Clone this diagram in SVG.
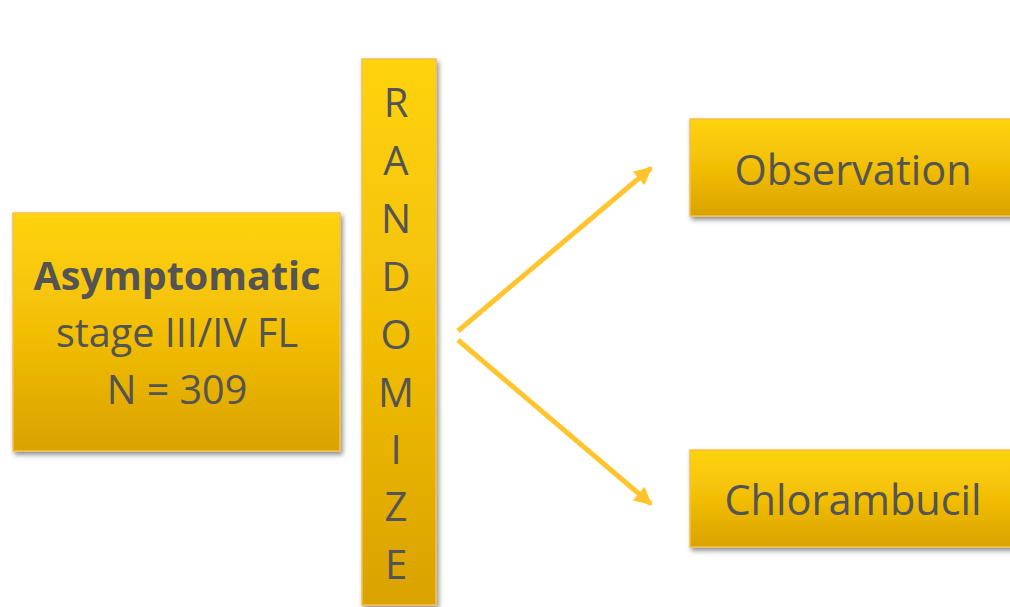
<svg xmlns="http://www.w3.org/2000/svg" width="1010" height="607" viewBox="0 0 1010 607">
  <defs>
    <linearGradient id="gold" x1="0" y1="0" x2="0" y2="1">
      <stop offset="0" stop-color="#FFD30A"/>
      <stop offset="0.5" stop-color="#F2BE06"/>
      <stop offset="1" stop-color="#D9A200"/>
    </linearGradient>
    <filter id="shadow" x="-10%" y="-10%" width="130%" height="130%">
      <feGaussianBlur in="SourceAlpha" stdDeviation="2.5"/>
      <feOffset dx="2" dy="3" result="b"/>
      <feComponentTransfer><feFuncA type="linear" slope="0.45"/></feComponentTransfer>
      <feMerge><feMergeNode/><feMergeNode in="SourceGraphic"/></feMerge>
    </filter>
    <marker id="arrow" viewBox="0 0 10 10" refX="9" refY="5" markerWidth="3.6" markerHeight="3.6" orient="auto" markerUnits="strokeWidth">
      <path d="M0,0 L10,5 L0,10 z" fill="#FFC42E"/>
    </marker>
  </defs>
  <style>
    .box { fill: url(#gold); stroke: #F5C04A; stroke-width: 1.5; filter: url(#shadow); }
    .t { font-family: "Open Sans", "Liberation Sans", sans-serif; fill: #545454; text-anchor: middle; }
    .L { font-size: 40px; }
    .conn { stroke: #FFC42E; stroke-width: 5; fill: none; }
  </style>
  <rect width="1010" height="607" fill="#FFFFFF"/>

  <g id="node-asymptomatic">
    <rect class="box" x="13" y="213" width="327" height="238"/>
    <text class="t" x="177" y="290" font-size="39.5" font-weight="bold">Asymptomatic</text>
    <text class="t" x="177" y="347" font-size="39.5">stage III/IV FL</text>
    <text class="t" x="177" y="404" font-size="39.5">N = 309</text>
  </g>

  <g id="node-randomize">
    <rect class="box" x="362" y="59" width="74" height="546"/>
    <text class="t L" x="396" y="117">R</text>
    <text class="t L" x="396" y="175">A</text>
    <text class="t L" x="396" y="233">N</text>
    <text class="t L" x="396" y="291">D</text>
    <text class="t L" x="396" y="349">O</text>
    <text class="t L" x="396" y="407">M</text>
    <text class="t L" x="396" y="464">I</text>
    <text class="t L" x="396" y="521">Z</text>
    <text class="t L" x="396" y="579">E</text>
  </g>

  <g id="node-observation">
    <rect class="box" x="690" y="119" width="330" height="97"/>
    <text class="t" x="853" y="185" font-size="41.5">Observation</text>
  </g>

  <g id="node-chlorambucil">
    <rect class="box" x="690" y="450" width="330" height="97"/>
    <text class="t" x="853" y="515" font-size="41.5">Chlorambucil</text>
  </g>

  <g id="connectors">
    <line class="conn" x1="458" y1="331" x2="651" y2="168" marker-end="url(#arrow)"/>
    <line class="conn" x1="458" y1="340" x2="651" y2="504" marker-end="url(#arrow)"/>
  </g>
</svg>
